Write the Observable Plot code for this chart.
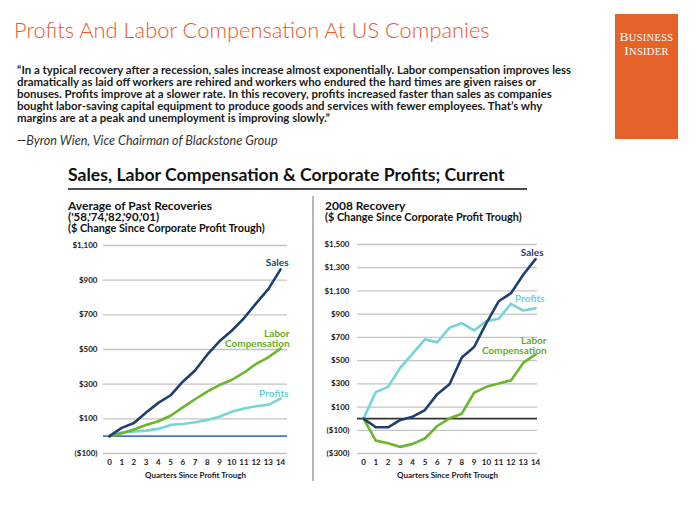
<!DOCTYPE html>
<html><head><meta charset="utf-8">
<script src="https://cdn.jsdelivr.net/npm/d3@7"></script>
<script src="https://cdn.jsdelivr.net/npm/@observablehq/plot@0.6"></script>
<style>
body{margin:0;background:#fff;}
#wrap{position:relative;width:700px;height:525px;overflow:hidden;background:#fff;}
#left,#right{position:absolute;top:230px;}
#left{left:0px}
#right{left:300px}
#overlay{position:absolute;left:0;top:0;pointer-events:none;}
</style></head>
<body><div id="wrap"><div id="left"></div><div id="right"></div></div>
<script>
// ---------- data ----------
const quarters = [0,1,2,3,4,5,6,7,8,9,10,11,12,13,14];
const seriesNames = ["Sales", "Labor\nCompensation", "Profits"];
// Average of past recoveries ('58,'74,'82,'90,'01)
const pastSales   = [0,48,76,137,192,236,314,379,470,547,608,680,766,848,962];
const pastLabor   = [0,17,38,65,86,118,166,213,257,295,324,366,417,455,505];
const pastProfits = [0,21,27,32,42,65,70,80,93,112,141,160,173,181,217];
// 2008 recovery
const recSales    = [0,-74,-74,-11,17,74,211,297,526,617,823,1011,1080,1240,1374];
const recLabor    = [0,-189,-211,-243,-217,-171,-63,3,43,223,274,303,329,480,554];
const recProfits  = [0,229,274,440,560,683,657,783,823,760,840,860,989,931,951];
const pastTicks = [-100,100,300,500,700,900,1100];
const recTicks  = [-300,-100,100,300,500,700,900,1100,1300,1500];
const xAxisTitle = "Quarters Since Profit Trough";

const headerTitle = "Profits And Labor Compensation At US Companies";
const quoteLines = [
  "\u201CIn a typical recovery after a recession, sales increase almost exponentially. Labor compensation improves less",
  "dramatically as laid off workers are rehired and workers who endured the hard times are given raises or",
  "bonuses. Profits improve at a slower rate. In this recovery, profits increased faster than sales as companies",
  "bought labor-saving capital equipment to produce goods and services with fewer employees. That\u2019s why",
  "margins are at a peak and unemployment is improving slowly.\u201D"
];
const attribution = "\u2014Byron Wien, Vice Chairman of Blackstone Group";
const chartTitle = "Sales, Labor Compensation & Corporate Profits; Current";
const leftSub = ["Average of Past Recoveries", "('58,'74,'82,'90,'01)", "($ Change Since Corporate Profit Trough)"];
const rightSub = ["2008 Recovery", "($ Change Since Corporate Profit Trough)"];

// ---------- style ----------
const SALES = "#1f3f6f", LABOR = "#6bb52f", PROFITS = "#74d4d6";
const SALES_T = "#1f3f6f", LABOR_T = "#63ad28", PROFITS_T = "#6ccfd2";
const ORANGE = "#e8572a";
const FONT = "Lato, 'Open Sans', sans-serif";
const fmt = v => v < 0 ? `($${d3.format(",")(-v)})` : `$${d3.format(",")(v)}`;

function panel(o) {
  const last = quarters.length - 1;
  const lbl = (vals, name, color, opts) => Plot.text([{q: quarters[last], v: vals[last], t: name}],
    {x: "q", y: "v", text: "t", fill: color, textAnchor: "end", fontSize: 10, fontWeight: "bold", ...opts});
  return Plot.plot({
    width: o.width, height: 260,
    marginLeft: o.ml, marginRight: o.mr, marginTop: o.mt, marginBottom: 37,
    style: {fontFamily: FONT, fontSize: "8px", fontWeight: "bold", color: "#1a1a1a", background: "transparent", overflow: "visible"},
    x: {domain: o.xDomain},
    y: {domain: o.yDomain},
    marks: [
      Plot.ruleY(o.ticks, {stroke: "#c4c4c4", strokeWidth: 1.3}),
      Plot.ruleY([0], {stroke: o.zeroColor, strokeWidth: 1.6}),
      Plot.axisY({ticks: o.ticks, tickFormat: fmt, tickSize: 0, tickPadding: o.yPad, label: null}),
      Plot.axisX({ticks: quarters, tickSize: 0, tickPadding: 6, label: null}),
      Plot.text([xAxisTitle], {text: d => d, frameAnchor: "bottom", dy: 24, fontSize: 8, fontWeight: "bold"}),
      Plot.line(quarters, {x: d => d, y: (d, i) => o.profits[i], stroke: PROFITS, strokeWidth: 2.6}),
      Plot.line(quarters, {x: d => d, y: (d, i) => o.labor[i], stroke: LABOR, strokeWidth: 2.6}),
      Plot.line(quarters, {x: d => d, y: (d, i) => o.sales[i], stroke: SALES, strokeWidth: 2.6}),
      lbl(o.sales, seriesNames[0], SALES_T, o.lab.sales),
      lbl(o.labor, seriesNames[1], LABOR_T, {lineAnchor: "bottom", ...o.lab.labor}),
      lbl(o.profits, seriesNames[2], PROFITS_T, o.lab.profits)
    ]
  });
}

document.getElementById("left").append(panel({
  width: 300, ml: 103, mr: 13, mt: 15,
  xDomain: [-0.49, 14.57], yDomain: [-100, 1100],
  ticks: pastTicks, yPad: 6, zeroColor: "#4a78b4",
  sales: pastSales, labor: pastLabor, profits: pastProfits,
  lab: {sales: {dx: 8, dy: -7}, labor: {dx: 9, dy: -2}, profits: {dx: 8, dy: -5}}
}));
document.getElementById("right").append(panel({
  width: 260, ml: 57, mr: 23, mt: 14,
  xDomain: [-0.49, 14.16], yDomain: [-300, 1500],
  ticks: recTicks, yPad: 8, zeroColor: "#333333",
  sales: recSales, labor: recLabor, profits: recProfits,
  lab: {sales: {dx: 8, dy: -6}, labor: {dx: 11, dy: 0}, profits: {dx: 9, dy: -9}}
}));

// ---------- overlay: header, quote, titles, logo ----------
const svg = d3.select("#wrap").append("svg").attr("id", "overlay")
  .attr("width", 700).attr("height", 525).style("font-family", FONT);

// logo
svg.append("rect").attr("x", 615).attr("y", 14).attr("width", 63).attr("height", 125).attr("fill", "#e5622b");
const logoWords = ["Business", "Insider"];
[40.5, 54.5].forEach((y, i) => {
  const w = logoWords[i].toUpperCase();
  const t = svg.append("text").attr("x", 646.5).attr("y", y).attr("text-anchor", "middle")
    .attr("fill", "#fff").attr("letter-spacing", 0.3).style("font-family", "'Liberation Serif', 'DejaVu Serif', serif");
  t.append("tspan").attr("font-size", 13.5).text(w[0]);
  t.append("tspan").attr("font-size", 10.5).text(w.slice(1));
});

function addText(str, x, y, size, opts = {}) {
  return svg.append("text").attr("x", x).attr("y", y).attr("font-size", size)
    .attr("font-weight", opts.weight || 400).attr("font-style", opts.italic ? "italic" : null)
    .attr("fill", opts.fill || "#1a1a1a").text(str);
}
function fitGroup(nodes, target) {
  const n0 = nodes[0].node();
  const len = n0.getComputedTextLength();
  const fs = +nodes[0].attr("font-size") * target / len;
  nodes.forEach(n => n.attr("font-size", fs));
}

fitGroup([addText(headerTitle, 14, 38, 21, {weight: 300, fill: ORANGE})], 476);
const qBase = [74, 86, 98, 110, 122];
fitGroup(quoteLines.map((s, i) => addText(s, 17, qBase[i], 11, {weight: 700, fill: "#1a1a1a"})), 555);
fitGroup([addText(attribution, 17, 145, 11, {italic: true, fill: "#333"})], 261);
fitGroup([addText(chartTitle, 68, 181, 18, {weight: 700, fill: "#111"})], 437);
// subtitles: fixed sizes to keep the tight line spacing
addText(leftSub[0], 68, 209.5, 12, {weight: 700, fill: "#111"});
addText(leftSub[1], 68, 220.5, 11.5, {weight: 700, fill: "#111"});
addText(rightSub[0], 325, 209.5, 12, {weight: 700, fill: "#111"});
fitGroup([addText(leftSub[2], 68, 232, 9.5, {weight: 700, fill: "#111"}),
          addText(rightSub[1], 325, 220.5, 9.5, {weight: 700, fill: "#111"})], 197);

// rules
svg.append("line").attr("x1", 68).attr("x2", 527).attr("y1", 189).attr("y2", 189).attr("stroke", "#111").attr("stroke-width", 1.5);
svg.append("line").attr("x1", 313).attr("x2", 313).attr("y1", 196).attr("y2", 481).attr("stroke", "#a0a0a0").attr("stroke-width", 1.5);
</script>
</body></html>
